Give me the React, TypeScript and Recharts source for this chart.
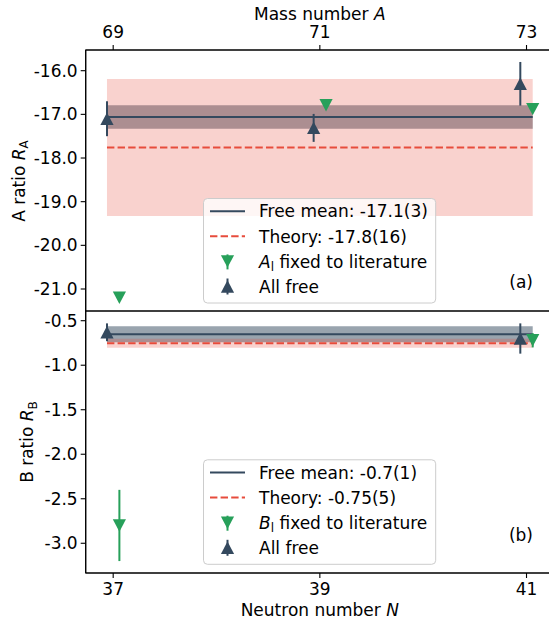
import React from 'react';
import {
  ComposedChart,
  XAxis,
  YAxis,
  Scatter,
  ErrorBar,
  ReferenceArea,
  ReferenceLine,
} from 'recharts';

// ---------- data ----------
const neutronNumbers = [37, 39, 41];
const massNumbers = [69, 71, 73];

const aAllFree = [-17.1, -17.31, -16.3];
const aAllFreeErr = [0.4, 0.32, 0.5];
const aLiterature = [-21.2, -16.79, -16.88];
const aLiteratureErr = [0.03, 0.05, 0.05];
const aFreeMean = -17.06;
const aFreeMeanErr = 0.27;
const aTheory = -17.76;
const aTheoryErr = 1.57;

const bAllFree: (number | null)[] = [-0.63, null, -0.7];
const bAllFreeErr: (number | null)[] = [0.1, null, 0.17];
const bLiterature: (number | null)[] = [-2.8, null, -0.72];
const bLiteratureErr: (number | null)[] = [0.4, null, 0.08];
const bFreeMean = -0.653;
const bFreeMeanErr = 0.09;
const bTheory = -0.754;
const bTheoryErr = 0.05;

const aTicks = [-21, -20, -19, -18, -17, -16];
const bTicks = [-3, -2.5, -2, -1.5, -1, -0.5];

// ---------- styling constants ----------
const BLUE = '#34495e';
const GREEN = '#27a05a';
const RED = '#e74c3c';
const FONT = 'DejaVu Sans';
const FS = 17;
const pointOffset = 0.06;
const xDomain: [number, number] = [36.734, 41.266];
const aDomain: [number, number] = [-21.504, -15.526];
const bDomain: [number, number] = [-3.334, -0.391];
const bandX1 = neutronNumbers[0] - pointOffset;
const bandX2 = neutronNumbers[neutronNumbers.length - 1] + pointOffset;

function build(vals: (number | null)[], errs: (number | null)[], off: number) {
  return neutronNumbers
    .map((n, i) => ({ x: n + off, y: vals[i], err: errs[i] }))
    .filter((d) => d.y !== null);
}

const aFreeData = build(aAllFree, aAllFreeErr, -pointOffset);
const aLitData = build(aLiterature, aLiteratureErr, pointOffset);
const bFreeData = build(bAllFree, bAllFreeErr, -pointOffset);
const bLitData = build(bLiterature, bLiteratureErr, pointOffset);

const TriUp = (props: any) => {
  const { cx, cy } = props;
  if (cx == null || cy == null) return null;
  const w = 6.6;
  const h = 6.2;
  return <path d={`M${cx},${cy - h} L${cx + w},${cy + h} L${cx - w},${cy + h} Z`} fill={BLUE} />;
};
const TriDown = (props: any) => {
  const { cx, cy } = props;
  if (cx == null || cy == null) return null;
  const w = 6.6;
  const h = 6.2;
  return <path d={`M${cx - w},${cy - h} L${cx + w},${cy - h} L${cx},${cy + h} Z`} fill={GREEN} />;
};

const tickStyle = { fill: '#000', fontSize: FS, fontFamily: FONT };
const axisStroke = { stroke: '#000', strokeWidth: 1.1 };

function Panel(props: {
  height: number;
  margin: any;
  top: boolean;
  yDomain: [number, number];
  yTicks: number[];
  freeData: any[];
  litData: any[];
  mean: number;
  meanErr: number;
  theory: number;
  theoryErr: number;
}) {
  const { height, margin, top, yDomain, yTicks, freeData, litData, mean, meanErr, theory, theoryErr } = props;
  return (
    <ComposedChart width={560} height={height} margin={margin}>
      <XAxis
        type="number"
        dataKey="x"
        orientation={top ? 'top' : 'bottom'}
        domain={xDomain}
        allowDataOverflow
        ticks={neutronNumbers}
        interval={0}
        tickFormatter={(v: number) =>
          top ? String(massNumbers[neutronNumbers.indexOf(v)]) : String(v)
        }
        height={30}
        tickSize={5}
        tickMargin={top ? 6.7 : 5}
        tick={tickStyle}
        axisLine={axisStroke}
        tickLine={axisStroke}
      />
      <YAxis
        type="number"
        dataKey="y"
        domain={yDomain}
        allowDataOverflow
        ticks={yTicks}
        interval={0}
        tickFormatter={(v: number) => v.toFixed(1)}
        width={80}
        tickSize={5}
        tickMargin={3}
        tick={tickStyle}
        axisLine={axisStroke}
        tickLine={axisStroke}
      />
      <ReferenceArea
        x1={bandX1}
        x2={bandX2}
        y1={mean - meanErr}
        y2={mean + meanErr}
        fill={BLUE}
        fillOpacity={0.5}
        stroke="none"
        ifOverflow="visible"
      />
      <ReferenceArea
        x1={bandX1}
        x2={bandX2}
        y1={theory - theoryErr}
        y2={theory + theoryErr}
        fill={RED}
        fillOpacity={0.25}
        stroke="none"
        ifOverflow="visible"
      />
      <ReferenceLine
        segment={[
          { x: bandX1, y: mean },
          { x: bandX2, y: mean },
        ]}
        stroke={BLUE}
        strokeWidth={2}
        ifOverflow="visible"
      />
      <ReferenceLine
        segment={[
          { x: bandX1, y: theory },
          { x: bandX2, y: theory },
        ]}
        stroke={RED}
        strokeWidth={2}
        strokeDasharray="7.4 3.2"
        ifOverflow="visible"
      />
      <ReferenceArea
        x1={xDomain[0]}
        x2={xDomain[1]}
        y1={yDomain[0]}
        y2={yDomain[1]}
        fill="none"
        fillOpacity={0}
        stroke="#000"
        strokeWidth={1.1}
        ifOverflow="visible"
      />
      <Scatter data={litData} shape={TriDown} isAnimationActive={false}>
        <ErrorBar dataKey="err" direction="y" width={0} stroke={GREEN} strokeWidth={2} isAnimationActive={false} />
      </Scatter>
      <Scatter data={freeData} shape={TriUp} isAnimationActive={false}>
        <ErrorBar dataKey="err" direction="y" width={0} stroke={BLUE} strokeWidth={2} isAnimationActive={false} />
      </Scatter>
    </ComposedChart>
  );
}

function LegendBox(props: { dy: number; meanLabel: string; theoryLabel: string; letter: string }) {
  const { dy, meanLabel, theoryLabel, letter } = props;
  const b0 = 217.4 + dy;
  const step = 25.1;
  const rows = [0, 1, 2, 3].map((i) => b0 + i * step);
  const mid = (i: number) => rows[i] - 6.2;
  const mx = 227.5;
  return (
    <g fontFamily={FONT} fontSize={FS} fill="#000">
      <rect x={203.5} y={198.5 + dy} width={232.2} height={104.5} rx={4} fill="#fff" fillOpacity={0.8} stroke="#cccccc" strokeWidth={1} />
      <line x1={210} x2={245} y1={mid(0)} y2={mid(0)} stroke={BLUE} strokeWidth={2} />
      <text x={259} y={rows[0]}>{meanLabel}</text>
      <line x1={210} x2={245} y1={mid(1)} y2={mid(1)} stroke={RED} strokeWidth={2} strokeDasharray="7.4 3.2" />
      <text x={259} y={rows[1]}>{theoryLabel}</text>
      <line x1={mx} x2={mx} y1={mid(2) - 7} y2={mid(2) + 8} stroke={GREEN} strokeWidth={2} />
      <path d={`M${mx - 6.6},${mid(2) - 6.2} L${mx + 6.6},${mid(2) - 6.2} L${mx},${mid(2) + 6.2} Z`} fill={GREEN} />
      <text x={259} y={rows[2]}>
        <tspan fontStyle="italic">{letter}</tspan>
        <tspan fontSize={12} dy={3.5}>l</tspan>
        <tspan dy={-3.5}> fixed to literature</tspan>
      </text>
      <line x1={mx} x2={mx} y1={mid(3) - 8} y2={mid(3) + 8} stroke={BLUE} strokeWidth={2} />
      <path d={`M${mx},${mid(3) - 6.2} L${mx + 6.6},${mid(3) + 6.2} L${mx - 6.6},${mid(3) + 6.2} Z`} fill={BLUE} />
      <text x={259} y={rows[3]}>All free</text>
    </g>
  );
}

export default function App() {
  return (
    <div
      style={{
        position: 'absolute',
        left: 0,
        top: 0,
        width: 549,
        height: 623,
        overflow: 'hidden',
        background: '#fff',
      }}
    >
      <div style={{ position: 'absolute', left: 0, top: 0 }}>
        <Panel
          height={320}
          margin={{ top: 20, bottom: 9, left: 5.7, right: 6 }}
          top={true}
          yDomain={aDomain}
          yTicks={aTicks}
          freeData={aFreeData}
          litData={aLitData}
          mean={aFreeMean}
          meanErr={aFreeMeanErr}
          theory={aTheory}
          theoryErr={aTheoryErr}
        />
      </div>
      <div style={{ position: 'absolute', left: 0, top: 300 }}>
        <Panel
          height={323}
          margin={{ top: 11, bottom: 20, left: 5.7, right: 6 }}
          top={false}
          yDomain={bDomain}
          yTicks={bTicks}
          freeData={bFreeData}
          litData={bLitData}
          mean={bFreeMean}
          meanErr={bFreeMeanErr}
          theory={bTheory}
          theoryErr={bTheoryErr}
        />
      </div>
      <svg
        width={549}
        height={623}
        style={{ position: 'absolute', left: 0, top: 0, pointerEvents: 'none' }}
      >
        <g fontFamily={FONT} fontSize={FS} fill="#000">
          <text x={319.8} y={19.5} textAnchor="middle">
            Mass number <tspan fontStyle="italic">A</tspan>
          </text>
          <text x={319.8} y={616} textAnchor="middle">
            Neutron number <tspan fontStyle="italic">N</tspan>
          </text>
          <text transform="translate(24.5,181) rotate(-90)" textAnchor="middle">
            A ratio <tspan fontStyle="italic">R</tspan>
            <tspan fontSize={12} dy={3.5}>A</tspan>
          </text>
          <text transform="translate(33,442) rotate(-90)" textAnchor="middle">
            B ratio <tspan fontStyle="italic">R</tspan>
            <tspan fontSize={12} dy={3.5}>B</tspan>
          </text>
          <text x={533} y={288} textAnchor="end">(a)</text>
          <text x={533} y={541} textAnchor="end">(b)</text>
        </g>
        <LegendBox dy={0} meanLabel="Free mean: -17.1(3)" theoryLabel="Theory: -17.8(16)" letter="A" />
        <LegendBox dy={261.3} meanLabel="Free mean: -0.7(1)" theoryLabel="Theory: -0.75(5)" letter="B" />
      </svg>
    </div>
  );
}
